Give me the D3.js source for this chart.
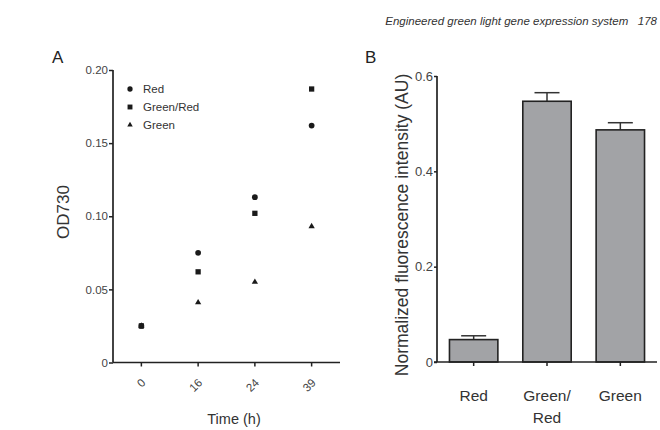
<!DOCTYPE html>
<html>
<head>
<meta charset="utf-8">
<script src="https://cdn.jsdelivr.net/npm/d3@7"></script>
<style>
  body { margin: 0; background: #fff; }
  svg { font-family: "Liberation Sans", Arial, sans-serif; }
</style>
</head>
<body>
<div id="chart"></div>
<script>
// panel A data (OD730 over time)
const times = ['0', '16', '24', '39'];
const seriesNames = ['Red', 'Green/Red', 'Green'];
const redOD = [0.025, 0.075, 0.113, 0.162];
const greenRedOD = [0.025, 0.062, 0.102, 0.187];
const greenOD = [0.025, 0.041, 0.055, 0.093];
const odTicks = [0, 0.05, 0.10, 0.15, 0.20];

// panel B data (normalized fluorescence)
const conditions = ['Red', 'Green/Red', 'Green'];
const fluor = [0.047, 0.547, 0.487];
const fluorErr = [0.008, 0.018, 0.015];
const fluorTicks = [0, 0.2, 0.4, 0.6];

const W = 660, H = 430;
const svg = d3.select('#chart').append('svg')
    .attr('width', W).attr('height', H);

svg.append('text')
    .attr('x', 657).attr('y', 25)
    .attr('text-anchor', 'end')
    .attr('font-size', 11.5).attr('font-style', 'italic').attr('fill', '#333')
    .attr('xml:space', 'preserve')
    .text('Engineered green light gene expression system   178');

/// Panel A
function drawPanelA() {
    const left = 113, right = 340, top = 70, bot = 362.5;
    const x = d3.scaleBand().domain(times).range([left, right]);
    const y = d3.scaleLinear().domain([0, 0.20]).range([bot, top]);
    const g = svg.append('g');

    g.append('text').attr('x', 52).attr('y', 63)
        .attr('font-size', 17).attr('fill', '#222').text('A');

    const yAxis = g.append('g')
        .attr('transform', `translate(${left},0)`)
        .call(d3.axisLeft(y).tickValues(odTicks).tickSize(4)
            .tickFormat(d => d === 0 ? '0' : d3.format('.2f')(d)));
    const xAxis = g.append('g')
        .attr('transform', `translate(0,${bot})`)
        .call(d3.axisBottom(x).tickSize(4).tickSizeOuter(0));
    [yAxis, xAxis].forEach(a => {
        a.select('.domain').attr('stroke', '#222').attr('stroke-width', 1.7);
        a.selectAll('.tick line').attr('stroke', '#222').attr('stroke-width', 1.5);
        a.selectAll('text').attr('fill', '#444').attr('font-family', 'Liberation Sans, Arial')
            .attr('font-size', 11.5);
    });
    yAxis.select('.domain').attr('d', `M-0,${top}V${bot}`);
    xAxis.select('.domain').attr('d', `M${left},0H${right}`);
    yAxis.selectAll('.tick text').attr('x', -5);
    xAxis.selectAll('.tick text')
        .attr('text-anchor', 'end')
        .attr('y', 0).attr('dy', 0)
        .attr('transform', 'translate(5,21) rotate(-45)');

    g.append('text')
        .attr('transform', `translate(69,212) rotate(-90)`)
        .attr('text-anchor', 'middle').attr('font-size', 17).attr('fill', '#333')
        .text('OD730');
    g.append('text')
        .attr('x', 234).attr('y', 424)
        .attr('text-anchor', 'middle').attr('font-size', 14.5).attr('fill', '#333')
        .text('Time (h)');

    const shapes = [d3.symbolCircle, d3.symbolSquare, d3.symbolTriangle];
    const sizes = [26, 28, 17];
    const data = [redOD, greenRedOD, greenOD];
    // draw green first, red, then square on top
    [2, 0, 1].forEach(si => {
        g.append('g').selectAll('path')
            .data(data[si])
            .join('path')
            .attr('d', d3.symbol().type(shapes[si]).size(sizes[si]))
            .attr('transform', (d, i) => `translate(${x(times[i]) + x.bandwidth() / 2},${y(d)})`)
            .attr('fill', '#1a1a1a');
    });

    const legend = g.append('g').attr('transform', 'translate(130,89)');
    seriesNames.forEach((name, i) => {
        const row = legend.append('g').attr('transform', `translate(0,${i * 18})`);
        row.append('path')
            .attr('d', d3.symbol().type(shapes[i]).size(sizes[i] - 4))
            .attr('fill', '#1a1a1a');
        row.append('text').attr('x', 13).attr('y', 4)
            .attr('font-size', 11.5).attr('fill', '#333').text(name);
    });
}

/// Panel B
function drawPanelB() {
    const left = 437, right = 657, top = 76, bot = 362;
    const x = d3.scaleBand().domain(conditions).range([left, right])
        .paddingInner(0.34).paddingOuter(0.17);
    const y = d3.scaleLinear().domain([0, 0.6]).range([bot, top]);
    const g = svg.append('g');

    g.append('text').attr('x', 365).attr('y', 63)
        .attr('font-size', 17).attr('fill', '#222').text('B');

    const bars = g.append('g');
    conditions.forEach((c, i) => {
        const cx = x(c) + x.bandwidth() / 2;
        bars.append('line')
            .attr('x1', cx).attr('x2', cx)
            .attr('y1', y(fluor[i])).attr('y2', y(fluor[i] + fluorErr[i]))
            .attr('stroke', '#333').attr('stroke-width', 1.5);
        bars.append('line')
            .attr('x1', cx - 12.5).attr('x2', cx + 12.5)
            .attr('y1', y(fluor[i] + fluorErr[i])).attr('y2', y(fluor[i] + fluorErr[i]))
            .attr('stroke', '#333').attr('stroke-width', 1.5);
    });
    bars.selectAll('rect')
        .data(fluor)
        .join('rect')
        .attr('x', (d, i) => x(conditions[i]))
        .attr('y', d => y(d))
        .attr('width', x.bandwidth())
        .attr('height', d => bot - y(d))
        .attr('fill', '#a2a3a6')
        .attr('stroke', '#222').attr('stroke-width', 1.6);

    const yAxis = g.append('g')
        .attr('transform', `translate(${left},0)`)
        .call(d3.axisLeft(y).tickValues(fluorTicks).tickSize(3)
            .tickFormat(d => d === 0 ? '0' : d3.format('.1f')(d)));
    const xAxis = g.append('g')
        .attr('transform', `translate(0,${bot})`)
        .call(d3.axisBottom(x).tickSize(4).tickSizeOuter(0).tickFormat(''));
    [yAxis, xAxis].forEach(a => {
        a.select('.domain').attr('stroke', '#222').attr('stroke-width', 1.7);
        a.selectAll('.tick line').attr('stroke', '#222').attr('stroke-width', 1.5);
    });
    yAxis.select('.domain').attr('d', `M-0,${top}V${bot}`);
    xAxis.select('.domain').attr('d', `M${left - 3},0H${right}`);
    yAxis.selectAll('.tick text').attr('x', -4)
        .attr('fill', '#444').attr('font-family', 'Liberation Sans, Arial').attr('font-size', 13);

    // category labels, wrapped at the slash
    conditions.forEach(c => {
        const parts = c.includes('/') ? [c.split('/')[0] + '/', c.split('/')[1]] : [c];
        const t = g.append('text')
            .attr('text-anchor', 'middle').attr('font-size', 15.5).attr('fill', '#333');
        parts.forEach((p, j) => {
            t.append('tspan').attr('x', x(c) + x.bandwidth() / 2)
                .attr('y', 401 + j * 22).text(p);
        });
    });

    g.append('text')
        .attr('transform', `translate(408,225) rotate(-90)`)
        .attr('text-anchor', 'middle').attr('font-size', 17.5).attr('fill', '#333')
        .text('Normalized fluorescence intensity (AU)');
}

drawPanelA();
drawPanelB();
</script>
</body>
</html>
